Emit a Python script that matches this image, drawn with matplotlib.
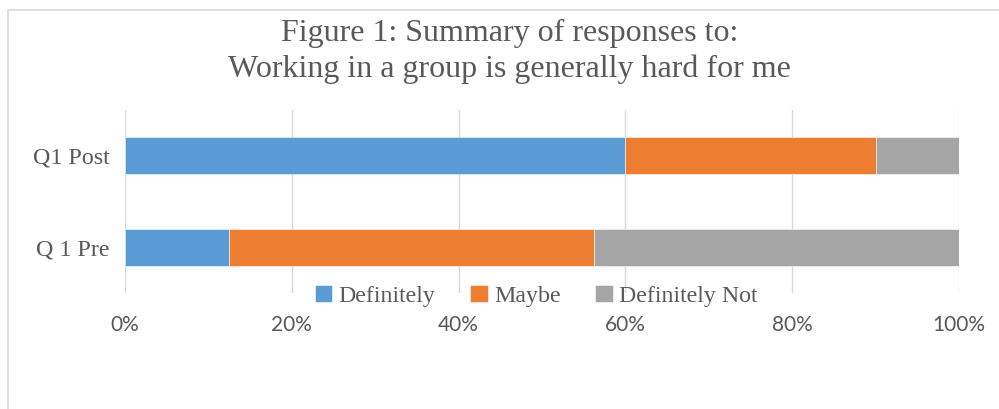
import matplotlib.pyplot as plt
from matplotlib.patches import Rectangle
from matplotlib.ticker import PercentFormatter

# Data (share of responses, %)
questions = ["Q 1 Pre", "Q1 Post"]
definitely = [12.5, 60.0]
maybe = [43.75, 30.0]
definitely_not = [43.75, 10.0]

colors = ["#5B9BD5", "#ED7D31", "#A5A5A5"]
labels = ["Definitely", "Maybe", "Definitely Not"]
text_gray = "#595959"

W, H = 999, 409
fig = plt.figure(figsize=(W / 100, H / 100), dpi=100)

# light frame of the chart area
fig.patches.append(Rectangle((8 / W, -0.1), 1.2, (H - 10) / H + 0.1,
                             transform=fig.transFigure, fill=False,
                             edgecolor="#D9D9D9", linewidth=1.2))

ax = fig.add_axes([125 / W, (H - 293) / H, (959 - 125) / W, (293 - 110) / H])

left = [0.0] * len(questions)
for vals, col, lab in zip([definitely, maybe, definitely_not], colors, labels):
    ax.barh(questions, vals, left=left, height=0.4, color=col, label=lab,
            edgecolor="white", linewidth=0.4, zorder=3)
    left = [l + v for l, v in zip(left, vals)]

ax.set_xlim(0, 100)
ax.set_ylim(-0.5, 1.5)
ax.set_xticks(range(0, 101, 20))
ax.xaxis.set_major_formatter(PercentFormatter(decimals=0))
ax.grid(axis="x", color="#D9D9D9", linewidth=1, zorder=0)
for s in ax.spines.values():
    s.set_visible(False)
ax.tick_params(axis="both", length=0)
ax.tick_params(axis="x", pad=16, labelsize=15, labelcolor=text_gray)
ax.tick_params(axis="y", pad=11, labelcolor=text_gray)
for t in ax.get_xticklabels():
    t.set_family("Lato")
for t in ax.get_yticklabels():
    t.set_family("Liberation Serif")
    t.set_fontsize(17.3)

ax.legend(loc="center", bbox_to_anchor=(536 / W, (H - 296) / H),
          bbox_transform=fig.transFigure, ncol=3, frameon=False,
          prop={"family": "Liberation Serif", "size": 17.2},
          handlelength=0.75, handleheight=0.75, handletextpad=0.25,
          columnspacing=1.45, labelcolor=text_gray, borderpad=0)

fig.text(0.51, 1 - 33 / H, "Figure 1: Summary of responses to:",
         ha="center", va="center", family="Liberation Serif", fontsize=23,
         color=text_gray)
fig.text(0.51, 1 - 69 / H, "Working in a group is generally hard for me",
         ha="center", va="center", family="Liberation Serif", fontsize=23,
         color=text_gray)

fig.savefig("out.png", dpi=100)
